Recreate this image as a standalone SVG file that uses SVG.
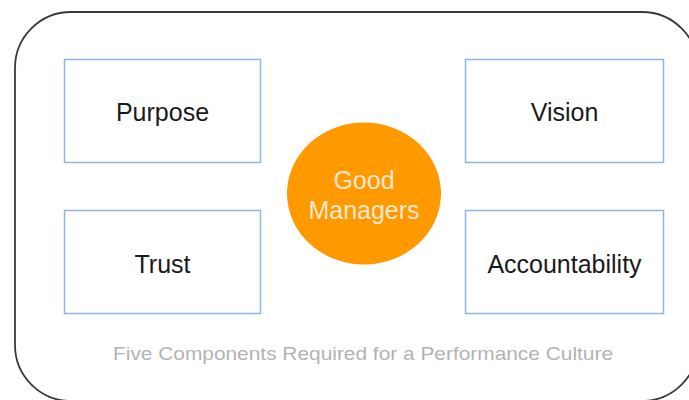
<svg xmlns="http://www.w3.org/2000/svg" width="689" height="400" viewBox="0 0 689 400">
  <style>
    .box { fill: #ffffff; stroke: #8db6e2; stroke-width: 1.5; }
    .label { font-family: "Liberation Sans", Arial, sans-serif; font-size: 25px; fill: #1a1a1a; text-anchor: middle; }
    .hub { fill: #ff9900; }
    .hub-text { font-family: "Liberation Sans", Arial, sans-serif; font-size: 25px; fill: #fde8cf; text-anchor: middle; }
    .caption { font-family: "Liberation Sans", Arial, sans-serif; font-size: 19px; fill: #b3b3b3; text-anchor: middle; }
  </style>
  <rect width="689" height="400" fill="#ffffff"/>

  <!-- outer frame -->
  <rect id="frame" x="15" y="12" width="683" height="389" rx="56" ry="56" fill="none" stroke="#3a3a3a" stroke-width="1.8"/>

  <g id="connectors"></g>

  <g id="purpose">
    <rect class="box" x="64.5" y="59.5" width="196" height="103"/>
    <text class="label" x="162.5" y="121">Purpose</text>
  </g>

  <g id="vision">
    <rect class="box" x="465.5" y="59.5" width="198" height="103"/>
    <text class="label" x="564.5" y="121">Vision</text>
  </g>

  <g id="trust">
    <rect class="box" x="64.5" y="210.5" width="196" height="103"/>
    <text class="label" x="162.5" y="273">Trust</text>
  </g>

  <g id="accountability">
    <rect class="box" x="465.5" y="210.5" width="198" height="103"/>
    <text class="label" x="564.5" y="273">Accountability</text>
  </g>

  <g id="good-managers">
    <ellipse class="hub" cx="364" cy="193.5" rx="77" ry="71"/>
    <text class="hub-text" x="364" y="189">Good</text>
    <text class="hub-text" x="364" y="219">Managers</text>
  </g>

  <text id="caption" class="caption" x="363" y="360" textLength="500" lengthAdjust="spacingAndGlyphs">Five Components Required for a Performance Culture</text>
</svg>
